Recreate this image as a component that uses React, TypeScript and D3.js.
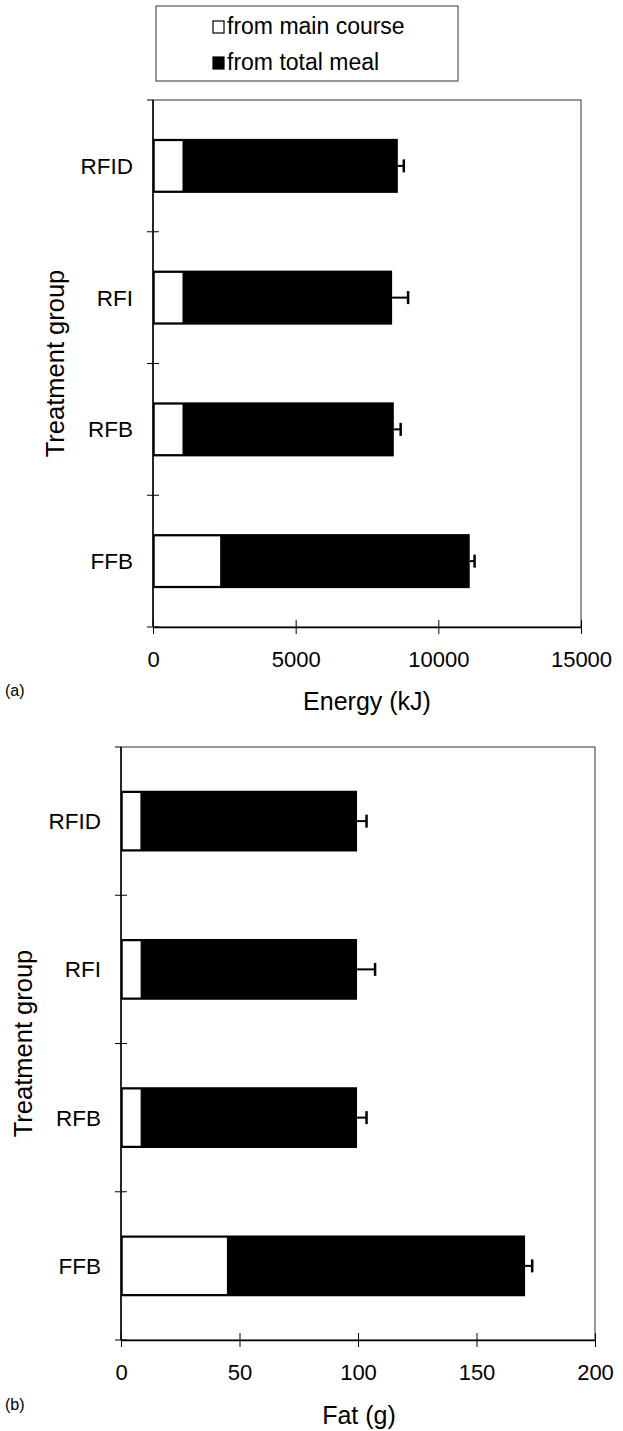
import React, { useEffect, useRef } from "react";
import * as d3 from "d3";

// treatment groups, top to bottom
const groups = ["RFID", "RFI", "RFB", "FFB"];

// panel (a): energy, kJ
const energyMain = [1060, 1060, 1060, 2380];
const energyTotal = [8580, 8380, 8440, 11100];
const energyErr = [210, 560, 240, 170];
const energyTicks = [0, 5000, 10000, 15000];

// panel (b): fat, g
const fatMain = [8.5, 8.6, 8.6, 45];
const fatTotal = [99.6, 99.6, 99.6, 170.5];
const fatErr = [4, 7.6, 4, 3];
const fatTicks = [0, 50, 100, 150, 200];

const legendLabels = ["from main course", "from total meal"];

const FONT = "'Liberation Sans', Arial, Helvetica, sans-serif";

type Panel = {
  tag: string;
  title: string;
  main: number[];
  total: number[];
  err: number[];
  ticks: number[];
  left: number;
  right: number;
  top: number;
  bottom: number;
  titleX: number;
  titleY: number;
  tagY: number;
  yTitleX: number;
};

function drawPanel(svg: d3.Selection<SVGSVGElement, unknown, null, undefined>, p: Panel) {
  const g = svg.append("g");
  const x = d3.scaleLinear()
    .domain([0, p.ticks[p.ticks.length - 1]])
    .range([p.left, p.right]);
  const y = d3.scaleBand()
    .domain(groups)
    .range([p.top, p.bottom])
    .paddingInner(0.59)
    .paddingOuter(0.295);

  // frame: top and right are thin
  g.append("rect")
    .attr("x", p.left).attr("y", p.top)
    .attr("width", p.right - p.left).attr("height", p.bottom - p.top)
    .attr("fill", "none").attr("stroke", "#333").attr("stroke-width", 1);

  // black bars = total meal
  g.selectAll("rect.total").data(groups).join("rect")
    .attr("class", "total")
    .attr("x", x(0))
    .attr("y", d => y(d)!)
    .attr("width", (_, i) => x(p.total[i]) - x(0))
    .attr("height", y.bandwidth())
    .attr("fill", "#000");

  // white bars = main course
  g.selectAll("rect.main").data(groups).join("rect")
    .attr("class", "main")
    .attr("x", x(0) + 1)
    .attr("y", d => y(d)! + 1.5)
    .attr("width", (_, i) => x(p.main[i]) - x(0) - 1)
    .attr("height", y.bandwidth() - 3)
    .attr("fill", "#fff")
    .attr("stroke", "#000")
    .attr("stroke-width", 1.5);

  // error bars (upper only)
  const eb = g.selectAll("g.err").data(groups).join("g").attr("class", "err");
  eb.append("line")
    .attr("x1", (_, i) => x(p.total[i]))
    .attr("x2", (_, i) => x(p.total[i] + p.err[i]))
    .attr("y1", d => y(d)! + y.bandwidth() / 2)
    .attr("y2", d => y(d)! + y.bandwidth() / 2)
    .attr("stroke", "#000").attr("stroke-width", 2);
  eb.append("line")
    .attr("x1", (_, i) => x(p.total[i] + p.err[i]))
    .attr("x2", (_, i) => x(p.total[i] + p.err[i]))
    .attr("y1", d => y(d)! + y.bandwidth() / 2 - 6.5)
    .attr("y2", d => y(d)! + y.bandwidth() / 2 + 6.5)
    .attr("stroke", "#000").attr("stroke-width", 2.5);

  // y axis with cross ticks at band boundaries
  g.append("line")
    .attr("x1", p.left).attr("x2", p.left)
    .attr("y1", p.top).attr("y2", p.bottom)
    .attr("stroke", "#000").attr("stroke-width", 1.5);
  const bounds = d3.range(groups.length + 1).map(i => p.top + i * y.step());
  g.selectAll("line.ytick").data(bounds).join("line")
    .attr("class", "ytick")
    .attr("x1", p.left - 6).attr("x2", (d, i) => (i === 0 ? p.left : p.left + 6))
    .attr("y1", d => d).attr("y2", d => d)
    .attr("stroke", "#000").attr("stroke-width", 1);

  // x axis
  const xAxis = d3.axisBottom(x)
    .tickValues(p.ticks)
    .tickSize(6)
    .tickSizeOuter(0)
    .tickPadding(18)
    .tickFormat(d3.format("d"));
  const ax = g.append("g")
    .attr("transform", `translate(0,${p.bottom})`)
    .call(xAxis);
  ax.select(".domain").attr("stroke", "#000").attr("stroke-width", 1.5);
  ax.selectAll(".tick line").attr("y1", -7).attr("y2", 7).attr("stroke", "#000");
  ax.selectAll(".tick text")
    .attr("font-family", FONT).attr("font-size", 22).attr("fill", "#000");

  // category labels
  g.selectAll("text.cat").data(groups).join("text")
    .attr("class", "cat")
    .attr("x", p.left - 20)
    .attr("y", d => y(d)! + y.bandwidth() / 2)
    .attr("dy", "0.36em")
    .attr("text-anchor", "end")
    .attr("font-family", FONT).attr("font-size", 22.5)
    .text(d => d);

  // axis titles
  g.append("text")
    .attr("x", p.titleX).attr("y", p.titleY)
    .attr("text-anchor", "middle")
    .attr("font-family", FONT).attr("font-size", 25)
    .text(p.title);
  g.append("text")
    .attr("transform", `translate(${p.yTitleX},${(p.top + p.bottom) / 2}) rotate(-90)`)
    .attr("text-anchor", "middle")
    .attr("font-family", FONT).attr("font-size", 25.5)
    .text("Treatment group");
  g.append("text")
    .attr("x", 5).attr("y", p.tagY)
    .attr("font-family", FONT).attr("font-size", 16)
    .text(p.tag);
}

function App() {
  const ref = useRef<SVGSVGElement>(null);

  useEffect(() => {
    const svg = d3.select(ref.current!);
    svg.selectAll("*").remove();

    // legend
    const leg = svg.append("g");
    leg.append("rect")
      .attr("x", 156).attr("y", 6).attr("width", 302).attr("height", 75)
      .attr("fill", "none").attr("stroke", "#333").attr("stroke-width", 1);
    legendLabels.forEach((lab, i) => {
      const yy = 21 + i * 36;
      leg.append("rect")
        .attr("x", 213).attr("y", yy).attr("width", 11).attr("height", 12)
        .attr("fill", i === 0 ? "#fff" : "#000")
        .attr("stroke", "#000").attr("stroke-width", 1.2);
      leg.append("text")
        .attr("x", 227).attr("y", yy + 13)
        .attr("font-family", FONT).attr("font-size", 23)
        .text(lab);
    });

    drawPanel(svg, {
      tag: "(a)", title: "Energy (kJ)",
      main: energyMain, total: energyTotal, err: energyErr, ticks: energyTicks,
      left: 153, right: 581, top: 100, bottom: 627,
      titleX: 367, titleY: 710, tagY: 696, yTitleX: 64,
    });
    drawPanel(svg, {
      tag: "(b)", title: "Fat (g)",
      main: fatMain, total: fatTotal, err: fatErr, ticks: fatTicks,
      left: 121, right: 595, top: 747, bottom: 1340,
      titleX: 359, titleY: 1424, tagY: 1410, yTitleX: 32,
    });
  }, []);

  return (
    <svg ref={ref} width={623} height={1431}
      style={{ position: "absolute", left: 0, top: 0, background: "#fff" }} />
  );
}

export default App;
